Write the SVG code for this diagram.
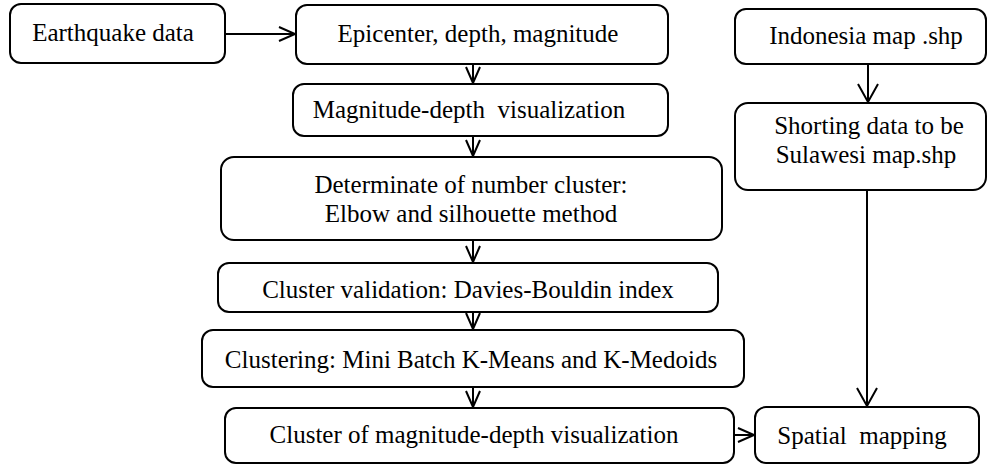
<svg xmlns="http://www.w3.org/2000/svg" width="989" height="465" viewBox="0 0 989 465">
<style>
.box{fill:#fff;stroke:#000;stroke-width:2}
.t{font-family:'Liberation Serif',serif;font-size:25px;fill:#000;text-anchor:middle;white-space:pre}
.c{fill:none;stroke:#000;stroke-width:2}
</style>
<defs>
<marker id="ah" markerUnits="userSpaceOnUse" markerWidth="20" markerHeight="18" refX="16" refY="8" orient="auto" overflow="visible">
<path d="M0,1 L16,8 L0,15" fill="none" stroke="#000" stroke-width="2"/>
</marker>
<marker id="ahL" markerUnits="userSpaceOnUse" markerWidth="22" markerHeight="24" refX="18" refY="10" orient="auto" overflow="visible">
<path d="M0,0 L18,10 L0,20" fill="none" stroke="#000" stroke-width="2"/>
</marker>
</defs>
<rect width="989" height="465" fill="#fff"/>
<g id="connectors">
<line class="c" x1="225" y1="34" x2="295" y2="34" marker-end="url(#ah)"/>
<line class="c" x1="473" y1="64" x2="473" y2="83" marker-end="url(#ah)"/>
<line class="c" x1="473" y1="136" x2="473" y2="156" marker-end="url(#ah)"/>
<line class="c" x1="473" y1="240" x2="473" y2="262" marker-end="url(#ah)"/>
<line class="c" x1="473" y1="312" x2="473" y2="329" marker-end="url(#ah)"/>
<line class="c" x1="473" y1="387" x2="473" y2="407" marker-end="url(#ah)"/>
<line class="c" x1="734" y1="435" x2="754" y2="435" marker-end="url(#ah)"/>
<line class="c" x1="868" y1="64" x2="868" y2="102" marker-end="url(#ahL)"/>
<line class="c" x1="867" y1="190" x2="867" y2="406" marker-end="url(#ahL)"/>
</g>
<g font-family="Liberation Serif, serif">
<g id="n-earthquake"><rect class="box" x="10" y="4" width="215" height="59" rx="11"/><text class="t" x="113" y="41">Earthquake data</text></g>
<g id="n-epicenter"><rect class="box" x="296" y="5" width="372" height="59" rx="11"/><text class="t" x="478" y="42">Epicenter, depth, magnitude</text></g>
<g id="n-magdepth"><rect class="box" x="293" y="84" width="375" height="52" rx="11"/><text class="t" x="469" y="118">Magnitude-depth  visualization</text></g>
<g id="n-determinate"><rect class="box" x="221" y="157" width="501" height="83" rx="13"/><text class="t" x="471" y="193">Determinate of number cluster:</text><text class="t" x="471" y="222">Elbow and silhouette method</text></g>
<g id="n-validation"><rect class="box" x="218" y="263" width="500" height="49" rx="11"/><text class="t" x="468" y="298">Cluster validation: Davies-Bouldin index</text></g>
<g id="n-clustering"><rect class="box" x="202" y="330" width="542" height="57" rx="11"/><text class="t" x="471" y="368">Clustering: Mini Batch K-Means and K-Medoids</text></g>
<g id="n-clustervis"><rect class="box" x="225" y="408" width="509" height="55" rx="11"/><text class="t" x="474" y="443">Cluster of magnitude-depth visualization</text></g>
<g id="n-spatial"><rect class="box" x="755" y="407" width="224" height="56" rx="11"/><text class="t" x="862" y="444">Spatial  mapping</text></g>
<g id="n-indonesia"><rect class="box" x="735" y="9" width="251" height="55" rx="11"/><text class="t" x="866" y="44">Indonesia map .shp</text></g>
<g id="n-shorting"><rect class="box" x="735" y="103" width="251" height="87" rx="13"/><text class="t" x="869" y="134">Shorting data to be</text><text class="t" x="866" y="163">Sulawesi map.shp</text></g>
</g>
</svg>
